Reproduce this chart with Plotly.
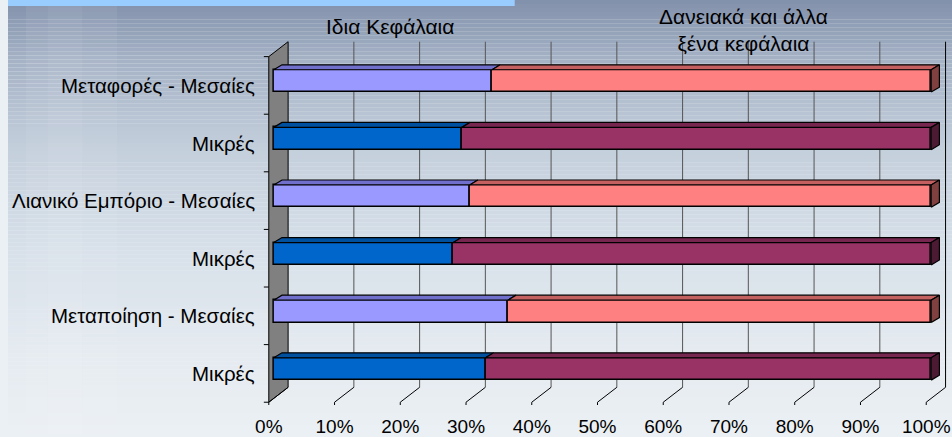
import plotly.graph_objects as go

# ---- data -------------------------------------------------------------
categories = [
    "Μεταφορές - Μεσαίες",
    "Μικρές",
    "Λιανικό Εμπόριο - Μεσαίες",
    "Μικρές",
    "Μεταποίηση - Μεσαίες",
    "Μικρές",
]
own_equity = [33.2, 28.6, 29.8, 27.3, 35.6, 32.2]          # %
borrowed_capital = [66.8, 71.4, 70.2, 72.7, 64.4, 67.8]    # %
x_tick_values = [0, 10, 20, 30, 40, 50, 60, 70, 80, 90, 100]
x_tick_labels = ["0%", "10%", "20%", "30%", "40%", "50%", "60%", "70%", "80%", "90%", "100%"]
series_names = ["Ιδια Κεφάλαια", "Δανειακά και άλλα<br>ξένα κεφάλαια"]

# ---- geometry (pixel scale of the axes and pseudo-3D offsets) ---------
W, H = 952, 437
PX_X = 6.63            # pixels per percent
PX_Y = 58.0            # pixels per category slot
X0_PX = 263.0          # pixel of 0 %
FLOOR_PX = 405.0       # pixel of the front floor edge
X_MIN = -0.9
Y_MIN = -0.05

WALL_DX, WALL_DY = 19.5 / PX_X, 15.0 / PX_Y      # depth of the chart box
BAR_FX, BAR_FY = 5.0 / PX_X, 4.5 / PX_Y          # front face of the bars
BAR_DX, BAR_DY = 8.3 / PX_X, 5.0 / PX_Y          # thickness of the bars
BAR_H = 22.5 / PX_Y

FONT = "Arial, Liberation Sans, sans-serif"
FS_CAT = 20.5
FS_TICK = 19
FS_TITLE = 21

# colours: (front, top, side) for medium / small firms
COL = {
    ("med", "own"): ("#9999FF", "#7070CC", "#5C5CA8"),
    ("med", "bor"): ("#FF8080", "#C46060", "#804040"),
    ("sml", "own"): ("#0066CC", "#0050A0", "#003B78"),
    ("sml", "bor"): ("#993366", "#772650", "#4D1A33"),
}

n = len(categories)
# bottom-to-top order on the y axis
rows = list(range(n))[::-1]
labels_b = [categories[i] for i in rows]
own_b = [own_equity[i] for i in rows]
bor_b = [borrowed_capital[i] for i in rows]
kind_b = ["med" if "Μεσαίες" in c else "sml" for c in labels_b]

fig = go.Figure()

# ---- background gradient ---------------------------------------------
stops = [
    (0, (130, 145, 171)),
    (60, (165, 178, 198)),
    (150, (196, 207, 220)),
    (250, (215, 224, 233)),
    (350, (228, 234, 240)),
    (437, (235, 240, 244)),
]


def grad(py):
    for (a, ca), (b, cb) in zip(stops, stops[1:]):
        if a <= py <= b:
            t = (py - a) / (b - a)
            return tuple(int(round(ca[k] + (cb[k] - ca[k]) * t)) for k in range(3))
    return stops[-1][1]


shapes = []
step = 4
for py in range(0, H, step):
    c = grad(py + step / 2)
    shapes.append(dict(type="rect", xref="paper", yref="paper", layer="below",
                       x0=0, x1=1, y0=1 - (py + step) / H, y1=1 - py / H,
                       fillcolor="rgb(%d,%d,%d)" % c, line=dict(width=0)))
# soft light streaks on the left side
for x0, x1, a in [(18, 40, 0.06), (40, 75, 0.10), (75, 110, 0.06)]:
    shapes.append(dict(type="rect", xref="paper", yref="paper", layer="below",
                       x0=x0 / W, x1=x1 / W, y0=0, y1=1 - 6 / H,
                       fillcolor="rgba(255,255,255,%.2f)" % a, line=dict(width=0)))
# light blue band along the top
shapes.append(dict(type="rect", xref="paper", yref="paper", layer="below",
                   x0=0, x1=511 / W, y0=1 - 6 / H, y1=1,
                   fillcolor="#99CCFF", line=dict(width=0)))

# ---- chart box (behind the bars): left wall, back gridlines, floor ---
top = float(n)


def path(points):
    return "M " + " L ".join("%.5f,%.5f" % p for p in points)


shapes.append(dict(type="path", xref="x", yref="y", layer="below",
                   path=path([(0, 0), (0, top), (WALL_DX, top + WALL_DY), (WALL_DX, WALL_DY)]) + " Z",
                   fillcolor="#808080", line=dict(color="black", width=1)))
for v in x_tick_values[1:]:
    shapes.append(dict(type="line", xref="x", yref="y", layer="below",
                       x0=v + WALL_DX, x1=v + WALL_DX, y0=WALL_DY, y1=top + WALL_DY,
                       line=dict(color="#555555" if v < 100 else "black", width=1)))
for v in x_tick_values:
    shapes.append(dict(type="path", xref="x", yref="y", layer="below",
                       path=path([(v, Y_MIN), (v, 0), (v + WALL_DX, WALL_DY)]),
                       line=dict(color="black", width=1)))
# category tick marks on the front edge of the wall
for k in range(n + 1):
    shapes.append(dict(type="line", xref="x", yref="y", layer="below",
                       x0=-5.0 / PX_X, x1=0, y0=k, y1=k, line=dict(color="black", width=1)))

# ---- bars: front faces ------------------------------------------------
centers = [i + 0.5 + BAR_FY for i in range(n)]
fig.add_trace(go.Bar(
    y=centers, x=own_b, base=[BAR_FX] * n, orientation="h", width=BAR_H,
    marker=dict(color=[COL[(k, "own")][0] for k in kind_b], line=dict(color="black", width=1.5)),
    name="Ιδια Κεφάλαια", showlegend=False))
fig.add_trace(go.Bar(
    y=centers, x=bor_b, base=[BAR_FX + o for o in own_b], orientation="h", width=BAR_H,
    marker=dict(color=[COL[(k, "bor")][0] for k in kind_b], line=dict(color="black", width=1.5)),
    name="Δανειακά και άλλα ξένα κεφάλαια", showlegend=False))

# ---- bars: top and side faces ----------------------------------------
polys = {}
for i in range(n):
    k = kind_b[i]
    yb = centers[i] - BAR_H / 2
    yt = centers[i] + BAR_H / 2
    o = own_b[i]
    end = o + bor_b[i]
    for part, a, b in (("own", 0.0, o), ("bor", o, end)):
        xs = [BAR_FX + a, BAR_FX + b, BAR_FX + b + BAR_DX, BAR_FX + a + BAR_DX, BAR_FX + a, None]
        ys = [yt, yt, yt + BAR_DY, yt + BAR_DY, yt, None]
        px_, py_ = polys.setdefault((k, part, 1), ([], []))
        px_ += xs
        py_ += ys
    xe = BAR_FX + end
    xs = [xe, xe, xe + BAR_DX, xe + BAR_DX, xe, None]
    ys = [yb, yt, yt + BAR_DY, yb + BAR_DY, yb, None]
    px_, py_ = polys.setdefault((k, "bor", 2), ([], []))
    px_ += xs
    py_ += ys

for (k, part, face), (xs, ys) in polys.items():
    fig.add_trace(go.Scatter(
        x=xs, y=ys, mode="lines", fill="toself", fillcolor=COL[(k, part)][face],
        line=dict(color="black", width=1.2), hoverinfo="skip", showlegend=False))

# ---- text -------------------------------------------------------------
ann = []
label_x = 251 / W
for i, lab in enumerate(labels_b):
    ann.append(dict(x=label_x, y=i + 0.5, xref="paper", yref="y", text=lab, showarrow=False,
                    xanchor="right", yanchor="middle",
                    font=dict(size=FS_CAT, color="black", family=FONT)))
ann.append(dict(x=385 / W, y=1 - 27 / H, xref="paper", yref="paper", text=series_names[0],
                showarrow=False, xanchor="center", yanchor="middle",
                font=dict(size=FS_TITLE, color="black", family=FONT)))
ann.append(dict(x=742 / W, y=1 - 30 / H, xref="paper", yref="paper", text=series_names[1],
                showarrow=False, xanchor="center", yanchor="middle",
                font=dict(size=FS_TITLE, color="black", family=FONT)))

x_max = (W - X0_PX) / PX_X
y_max = FLOOR_PX / PX_Y
dom_left = (X0_PX + X_MIN * PX_X) / W
dom_bottom = (H - (FLOOR_PX - Y_MIN * PX_Y)) / H

fig.update_layout(
    width=W, height=H, autosize=False,
    margin=dict(l=0, r=0, t=0, b=0),
    paper_bgcolor="rgb(235,240,244)", plot_bgcolor="rgba(0,0,0,0)",
    barmode="overlay", bargap=0,
    shapes=shapes, annotations=ann,
    xaxis=dict(domain=[dom_left, 1], range=[X_MIN, x_max], showgrid=False, zeroline=False,
               showline=False, tickmode="array", tickvals=x_tick_values, ticktext=x_tick_labels,
               ticks="outside", ticklen=4, tickcolor="rgba(0,0,0,0)",
               tickfont=dict(size=FS_TICK, color="black", family=FONT), fixedrange=True),
    yaxis=dict(domain=[dom_bottom, 1], range=[Y_MIN, y_max], showgrid=False, zeroline=False,
               showline=False, showticklabels=False, ticks="", fixedrange=True),
    showlegend=False,
)

fig.write_html("out.html")
